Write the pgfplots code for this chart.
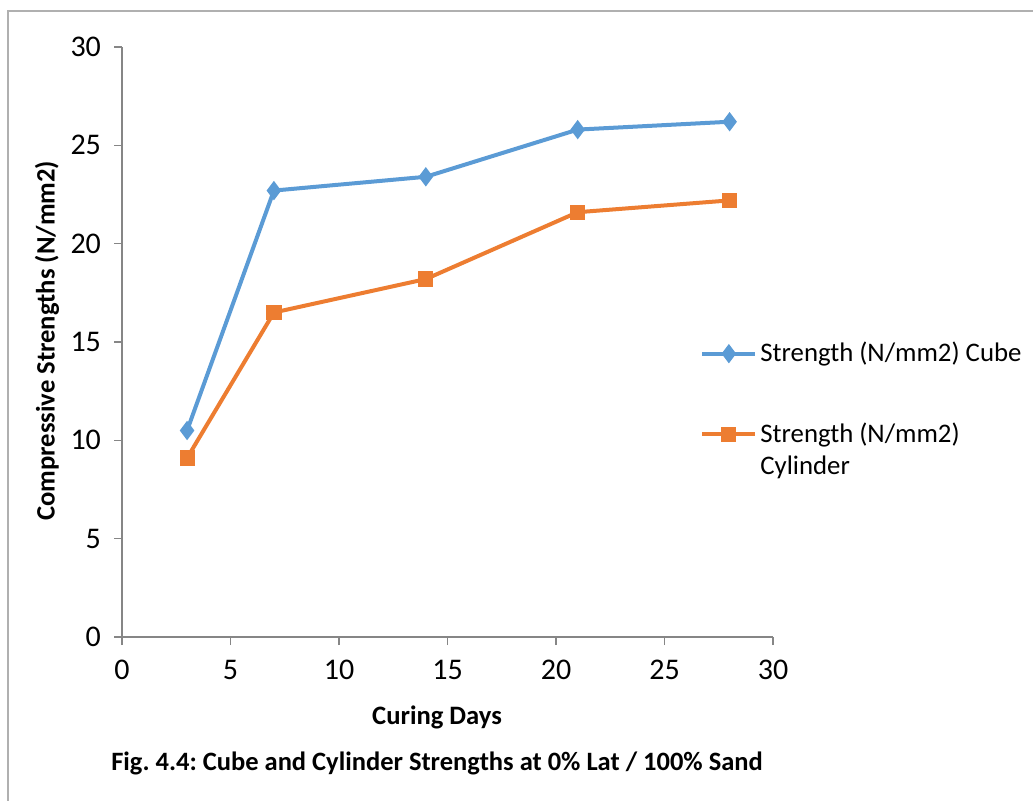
\documentclass[border=0pt]{standalone}
\usepackage{pgfplots}
\pgfplotsset{compat=1.18}
\usepackage{fontspec}
\setmainfont{Carlito}
\frenchspacing
\definecolor{cubeblue}{HTML}{5B9BD5}
\definecolor{cylorange}{HTML}{ED7D31}
\definecolor{axgray}{HTML}{868686}
\definecolor{framegray}{HTML}{B0B0B0}
\begin{document}
\begin{tikzpicture}
\path[use as bounding box] (0,0) rectangle (516.5pt,-400.5pt);
\draw[framegray, line width=0.6pt] (4pt,-400.5pt) -- (4pt,-5.5pt) -- (516.5pt,-5.5pt);
\begin{axis}[
  at={(61pt,-318.5pt)}, anchor=south west,
  scale only axis, width=325.5pt, height=295pt,
  xmin=0, xmax=30, ymin=0, ymax=30,
  xtick={0,5,...,30}, ytick={0,5,...,30},
  axis lines=left, axis line style={axgray, line width=0.6pt, -},
  tick style={axgray, line width=0.6pt},
  tick align=outside, major tick length=4pt,
  every tick label/.append style={font=\fontsize{15}{18}\selectfont},
  yticklabel style={xshift=-3pt},
  xticklabel style={yshift=-4pt},
  /pgf/number format/assume math mode=true,
  xlabel={Curing Days}, ylabel={Compressive Strengths (N/mm2)},
  label style={font=\fontsize{13.3}{16}\selectfont\bfseries},
  xlabel style={at={(axis description cs:0.484,-0.1356)}, anchor=center},
  ylabel style={at={(axis description cs:-0.1152,0.502)}, anchor=center},
  clip=false,
  legend style={draw=none, fill=none, at={(axis description cs:0.8786,0.5136)}, anchor=north west,
    font=\fontsize{13.4}{16}\selectfont, row sep=25pt, nodes={inner xsep=1.5pt}},
  legend cell align=left,
  legend image code/.code={\draw[mark repeat=2,mark phase=2] plot coordinates {(0pt,0pt)(13.25pt,0pt)(26.5pt,0pt)};},
]
\addplot[cubeblue, line width=2pt, mark=diamond*, mark size=3.2pt, mark options={solid}] coordinates {
  (3,10.5) (7,22.7) (14,23.4) (21,25.8) (28,26.2)};
\addlegendentry{Strength (N/mm2) Cube}
\addplot[cylorange, line width=2pt, mark=square*, mark size=2.8pt, mark options={solid}] coordinates {
  (3,9.1) (7,16.5) (14,18.2) (21,21.6) (28,22.2)};
\addlegendentry{\rlap{\raisebox{-16pt}[0pt][0pt]{Cylinder}}Strength (N/mm2)}
\end{axis}
\node[font=\fontsize{13.25}{16}\selectfont\bfseries] at (218.5pt,-381.5pt) {Fig. 4.4: Cube and Cylinder Strengths at 0\% Lat / 100\% Sand};
\end{tikzpicture}
\end{document}
